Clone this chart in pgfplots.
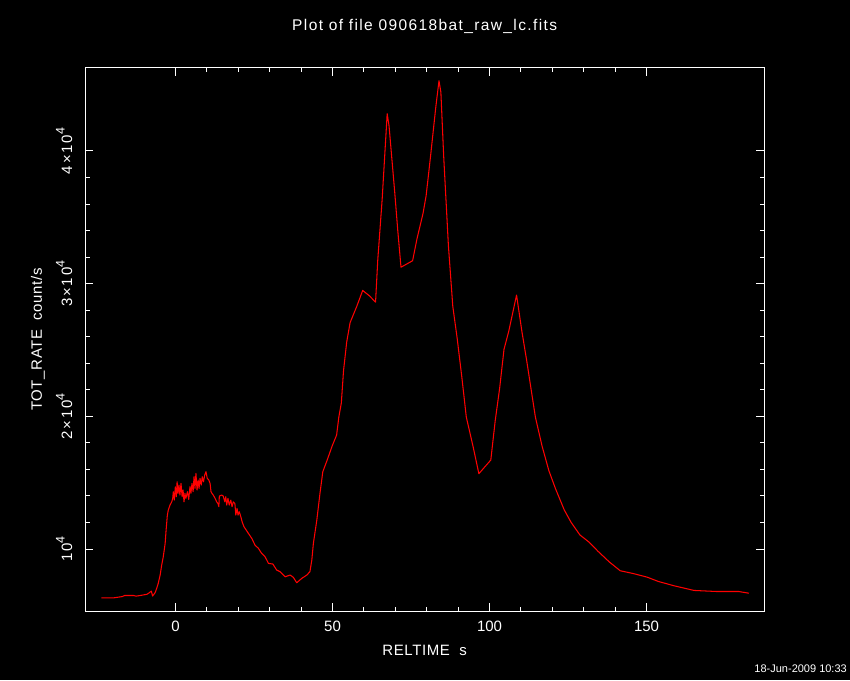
\documentclass[border=0pt]{standalone}
\usepackage{pgfplots}
\pgfplotsset{compat=1.18}
\usepackage{fontspec}
\setmainfont{Liberation Sans}
\newcommand{\expo}[1]{\raisebox{0.5em}{\fontsize{12.5}{14}\selectfont #1}}
\begin{document}
\begin{tikzpicture}[x=1pt,y=1pt]
\fill[black] (0,0) rectangle (850,680);
\begin{axis}[
  at={(85.4pt,69pt)}, anchor=south west,
  scale only axis, width=678.6pt, height=543pt,
  xmin=-28.7, xmax=187.4, ymin=5330, ymax=46255,
  xtick={0,50,100,150}, xticklabels={0,50,100,150},
  minor x tick num=4,
  ytick={10000,20000,30000,40000},
  yticklabels={10\expo{4},2×10\expo{4},3×10\expo{4},4×10\expo{4}},
  minor y tick num=4,
  scaled y ticks=false,
  tick align=inside,
  major tick length=8pt, minor tick length=4.5pt,
  axis line style={white, line width=1pt},
  every tick/.style={white, line width=1pt},
  xticklabel style={font=\fontsize{15}{18}\selectfont, text=white, anchor=north, inner sep=0pt, yshift=-10pt},
  yticklabel style={font=\fontsize{15}{18}\selectfont\addfontfeatures{LetterSpace=12}, text=white, xshift=-13pt, rotate=90, anchor=south, inner sep=0pt},
  title={Plot of file 090618bat\_raw\_lc.fits},
  title style={font=\fontsize{15.5}{18}\selectfont\addfontfeatures{LetterSpace=9}, text=white, at={(axis description cs:0.5,1.066)}, anchor=center},
  xlabel={RELTIME\ \ s},
  xlabel style={font=\fontsize{15}{18}\selectfont\addfontfeatures{LetterSpace=4}, text=white, at={(axis description cs:0.5,-0.072)}, anchor=center},
  ylabel={TOT\_RATE\ \ count/s},
  ylabel style={font=\fontsize{15}{18}\selectfont\addfontfeatures{LetterSpace=4}, text=white, at={(axis description cs:-0.070,0.5)}, anchor=center},
]
\addplot[red, line width=1.05pt, line join=round] coordinates {
(-23.6,6320) (-19.7,6320) (-16.9,6420) (-16.2,6500) (-13.4,6500) (-12.6,6450)
(-11.2,6500) (-9.1,6590) (-8.4,6700) (-7.7,6830) (-7.3,6460) (-6.5,6710)
(-6.0,7035) (-5.5,7415) (-4.9,8040) (-4.4,8795) (-3.9,9420) (-3.3,10430)
(-3.0,11430) (-2.6,12560) (-2.3,12940) (-1.75,13315) (-1.2,13560) (-0.9,13820)
(-0.7,14320) (-0.4,13690) (-0.06,14690) (0.25,13940) (0.5,15070) (0.8,14200)
(1.1,14820) (1.4,14070) (1.75,14950) (2.1,13940) (2.4,14450) (2.7,13560)
(3.0,14200) (3.3,13820) (3.8,14320) (4.2,13740) (4.6,14700) (4.9,14200)
(5.25,14950) (5.6,14320) (5.9,15450) (6.2,14570) (6.5,15700) (6.85,14450)
(7.2,15200) (7.5,14570) (7.8,15330) (8.2,14820) (8.5,15450) (8.9,15070)
(9.3,15580) (9.7,15830) (10.1,15330) (10.6,15200) (11.0,14950) (11.3,14320)
(11.6,14200) (12.0,14070) (12.6,13820) (13.1,13560) (13.5,13440) (13.8,13190)
(13.95,13990) (14.7,14070) (15.2,13990) (15.7,13560) (16.0,13940) (16.3,13315)
(16.7,13820) (17.1,13315) (17.6,13690) (18.0,13190) (18.4,13560) (18.9,13440)
(19.2,12560) (19.6,13060) (19.9,12560) (20.3,12810) (20.8,12430) (21.2,12060)
(21.8,11680) (22.5,11430) (23.2,11180) (24.3,10800) (25.3,10300) (26.4,10050)
(27.4,9680) (28.5,9420) (29.6,8920) (31.0,8870) (32.2,8420) (33.3,8290)
(34.9,7910) (36.5,8040) (37.5,7870) (38.6,7460) (40.2,7790) (41.8,8040)
(42.8,8290) (43.4,9170) (43.9,10430) (45.0,12190) (46.0,14200) (46.9,15830)
(48.3,16710) (49.9,17780) (51.3,18590) (52.0,19940) (52.8,21010) (53.5,23440)
(54.5,25590) (55.6,27070) (57.7,28280) (59.6,29490) (61.7,29090) (63.7,28610)
(64.4,31780) (65.8,36350) (67.4,42810) (68.0,41880) (69.8,36900) (70.8,33930)
(71.8,31240) (75.5,31730) (76.9,33390) (78.8,35280) (79.8,36620) (81.2,39580)
(82.9,43350) (83.9,45290) (84.5,44430) (85.4,39580) (86.9,32860) (88.3,28280)
(89.7,25860) (91.2,22900) (92.6,19940) (94.7,17780) (96.6,15680) (100.4,16710)
(101.8,19670) (103.2,22090) (104.6,25050) (106.1,26400) (108.6,29140) (110.3,26400)
(111.8,24240) (114.6,19940) (116.7,17780) (118.9,15900) (121.0,14550) (123.8,12940)
(126.0,12000) (128.8,11055) (131.7,10520) (134.5,9840) (138.1,9035) (141.6,8365)
(145.9,8145) (150.2,7880) (153.7,7560) (158.7,7235) (165.1,6880) (172.2,6800)
(179.3,6800) (182.6,6670)
};
\end{axis}
\node[anchor=east, text=white, font=\fontsize{11}{13}\selectfont, inner sep=0pt] at (847,11) {18-Jun-2009 10:33};
\end{tikzpicture}
\end{document}
